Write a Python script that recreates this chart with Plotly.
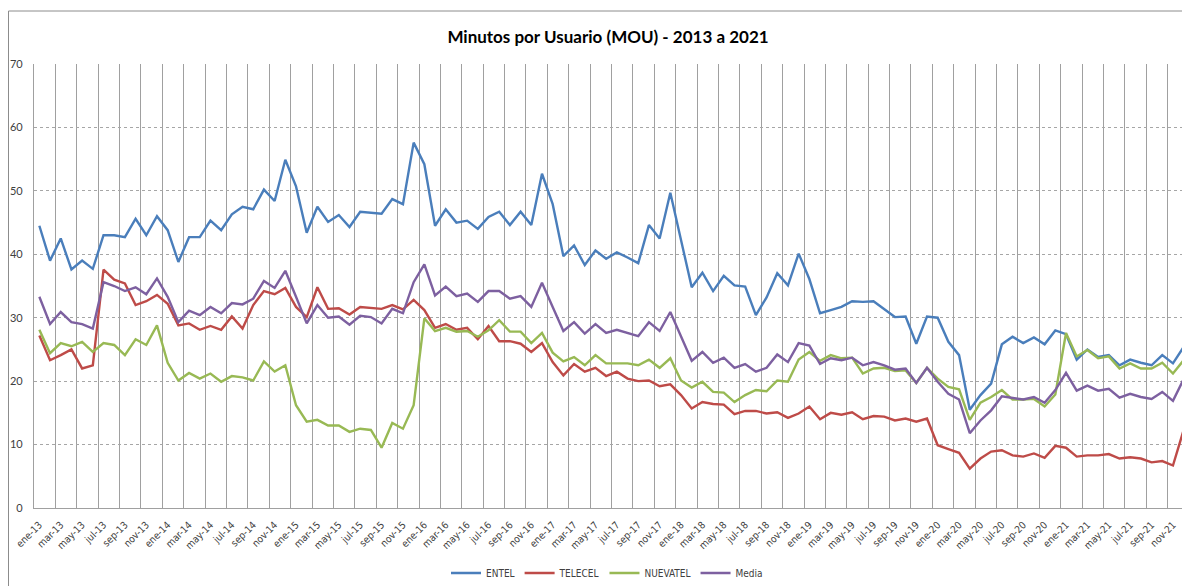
import plotly.graph_objects as go

MONTHS = ["ene", "feb", "mar", "abr", "may", "jun", "jul", "ago", "sep", "oct", "nov", "dic"]
YEARS = ["13", "14", "15", "16", "17", "18", "19", "20", "21"]
categories = [f"{m}-{y}" for y in YEARS for m in MONTHS]

entel = [
    44.5, 39.0, 42.5, 37.6, 39.0, 37.7, 43.0, 43.0, 42.7, 45.6, 43.0, 46.0, 43.8, 38.8, 42.7, 42.7,
    45.3, 43.8, 46.3, 47.5, 47.1, 50.2, 48.4, 54.9, 50.7, 43.4, 47.5, 45.1, 46.2, 44.3, 46.7, 46.6, 46.4, 48.7, 47.9,
    57.6, 54.2, 44.5, 47.1, 45.0, 45.3, 44.0, 45.9, 46.7, 44.6, 46.7, 44.6, 52.7, 47.9, 39.7, 41.4, 38.3, 40.6, 39.3,
    40.3, 39.5, 38.6, 44.6, 42.5, 49.7, 42.2, 34.8, 37.1, 34.2, 36.6, 35.1, 34.9, 30.4, 33.2, 37.0, 35.1, 40.1, 36.1,
    30.7, 31.2, 31.7, 32.6, 32.5, 32.6, 31.4, 30.1, 30.2, 25.9, 30.2, 30.0, 26.2, 24.1, 15.5, 17.8, 19.6, 25.8,
    27.0, 26.0, 26.9, 25.8, 28.0, 27.4, 23.4, 25.0, 23.8, 24.1, 22.5, 23.4, 22.9, 22.5, 24.1, 22.8, 25.4,
]
telecel = [
    27.2, 23.3, 24.1, 25.0, 22.0, 22.5, 37.6, 36.0, 35.4, 32.0, 32.6, 33.6, 32.2, 28.8, 29.1, 28.1,
    28.7, 28.1, 30.2, 28.3, 32.0, 34.2, 33.7, 34.7, 31.7, 30.1, 34.8, 31.4, 31.5, 30.5, 31.7, 31.6, 31.4, 32.0, 31.3,
    32.8, 31.2, 28.4, 29.0, 28.1, 28.4, 26.6, 28.7, 26.3, 26.3, 25.9, 24.6, 26.0, 23.0, 20.9, 22.7, 21.5, 22.1, 20.8,
    21.5, 20.4, 20.0, 20.1, 19.2, 19.5, 17.8, 15.7, 16.7, 16.4, 16.3, 14.8, 15.3, 15.3, 14.9, 15.1, 14.2, 14.9, 16.0,
    14.0, 15.0, 14.7, 15.1, 14.0, 14.5, 14.4, 13.8, 14.1, 13.6, 14.1, 9.9, 9.3, 8.7, 6.2, 7.8, 8.9, 9.1,
    8.3, 8.1, 8.6, 7.9, 9.8, 9.5, 8.1, 8.3, 8.3, 8.5, 7.8, 8.0, 7.8, 7.2, 7.4, 6.7, 12.3,
]
nuevatel = [
    28.1, 24.4, 26.0, 25.5, 26.2, 24.6, 26.0, 25.7, 24.1, 26.6, 25.7, 28.8, 22.9, 20.1, 21.3, 20.4,
    21.2, 19.9, 20.8, 20.6, 20.1, 23.1, 21.5, 22.5, 16.2, 13.6, 13.9, 13.0, 13.0, 12.0, 12.5, 12.3, 9.5, 13.4, 12.5,
    16.2, 29.9, 27.9, 28.4, 27.8, 27.9, 27.0, 28.0, 29.6, 27.8, 27.8, 26.0, 27.6, 24.5, 23.1, 23.8, 22.5, 24.1, 22.8,
    22.8, 22.8, 22.5, 23.4, 22.1, 23.6, 20.1, 19.0, 19.9, 18.3, 18.2, 16.7, 17.8, 18.6, 18.4, 20.1, 19.9, 23.4, 24.6,
    23.2, 24.1, 23.6, 23.7, 21.2, 22.0, 22.1, 21.6, 21.7, 19.7, 22.1, 20.4, 19.1, 18.7, 13.9, 16.6, 17.5, 18.6,
    17.1, 17.1, 17.2, 16.0, 17.9, 27.6, 23.9, 24.9, 23.6, 23.9, 22.0, 22.8, 22.0, 22.0, 22.9, 21.2, 23.3,
]
media = [
    33.3, 29.0, 30.9, 29.3, 29.0, 28.3, 35.6, 35.0, 34.2, 34.8, 33.7, 36.2, 33.3, 29.3, 31.1, 30.4,
    31.7, 30.7, 32.3, 32.1, 33.0, 35.8, 34.7, 37.4, 33.3, 29.1, 32.0, 30.0, 30.2, 28.9, 30.3, 30.1, 29.1, 31.4, 30.7,
    35.6, 38.4, 33.5, 34.9, 33.4, 33.8, 32.5, 34.2, 34.2, 33.0, 33.4, 31.7, 35.5, 31.7, 27.9, 29.3, 27.5, 29.0, 27.6,
    28.1, 27.6, 27.1, 29.3, 27.9, 30.9, 27.0, 23.2, 24.6, 22.9, 23.7, 22.1, 22.7, 21.5, 22.1, 24.2, 23.0, 26.0, 25.6,
    22.7, 23.6, 23.3, 23.7, 22.5, 23.0, 22.5, 21.8, 22.0, 19.7, 22.1, 19.9, 18.0, 17.1, 11.8, 13.8, 15.4, 17.6,
    17.4, 17.1, 17.5, 16.6, 18.6, 21.3, 18.5, 19.3, 18.5, 18.8, 17.4, 18.0, 17.5, 17.2, 18.3, 16.9, 20.3,
]

series = [
    ("ENTEL", entel, "#4A7EBB"),
    ("TELECEL", telecel, "#BE4B48"),
    ("NUEVATEL", nuevatel, "#98B954"),
    ("Media", media, "#7D60A0"),
]

fig = go.Figure()
for name, vals, color in series:
    fig.add_trace(go.Scatter(x=categories, y=vals, name=name, mode="lines",
                             line=dict(color=color, width=2.4)))

# page has an 8px body margin, so the figure is sized/positioned to compensate
OFF = 8
W, H = 1190 - OFF, 586 - OFF
L, R, T, B = 26, 1, 56, 78
pw = W - L - R
ph = H - T - B

NARROW = "Liberation Sans Narrow, DejaVu Sans Condensed, Arial Narrow, Liberation Sans, sans-serif"

fig.update_layout(
    template="none",
    width=W, height=H,
    margin=dict(l=L, r=R, t=T, b=B, autoexpand=False),
    paper_bgcolor="white", plot_bgcolor="white",
    font=dict(family="Lato, Arial", color="#404040"),
    title=dict(text="<b>Minutos por Usuario (MOU) - 2013 a 2021</b>",
               x=(608 - OFF) / W, xanchor="center", xref="container",
               y=1 - (37 - OFF) / H, yanchor="middle", yref="container",
               font=dict(family="Lato, Arial", size=17, color="#000000")),
    showlegend=True,
    legend=dict(orientation="h", x=(607 - OFF - L) / pw, xanchor="center",
                y=(ph - (573 - OFF - T)) / ph, yanchor="middle",
                font=dict(family=NARROW, size=10, color="#404040"),
                itemwidth=30, tracegroupgap=0, bgcolor="rgba(0,0,0,0)",
                borderwidth=0),
    xaxis=dict(type="category", dtick=2, tickson="boundaries",
               ticks="", ticklabelstandoff=6,
               showgrid=True, gridcolor="#a0a0a0", gridwidth=1.2,
               showline=True, linecolor="#a0a0a0", linewidth=1.2,
               zeroline=False, automargin=False,
               tickangle=-45,
               tickfont=dict(family=NARROW, size=10, color="#404040"),
               range=[-0.5, len(categories) - 0.5]),
    yaxis=dict(range=[0, 70], dtick=10, showgrid=True, gridcolor="#a6a6a6",
               griddash="dot", gridwidth=1, zeroline=False, automargin=False,
               showline=True, linecolor="#a0a0a0", linewidth=1.2,
               ticks="", ticklabelstandoff=8,
               tickfont=dict(family="Lato, Arial", size=11, color="#404040")),
    shapes=[
        dict(type="line", xref="paper", yref="paper",
             x0=(0.5 - L) / pw, x1=(0.5 - L) / pw,
             y0=(ph - (H + 5 - T)) / ph, y1=(ph - (11 - OFF - T)) / ph,
             line=dict(color="#8c8c8c", width=1)),
        dict(type="line", xref="paper", yref="paper",
             x0=(0.5 - L) / pw, x1=1.01,
             y0=(ph - (11 - OFF - T)) / ph, y1=(ph - (11 - OFF - T)) / ph,
             line=dict(color="#8c8c8c", width=1)),
    ],
)

fig.write_html("out.html")
